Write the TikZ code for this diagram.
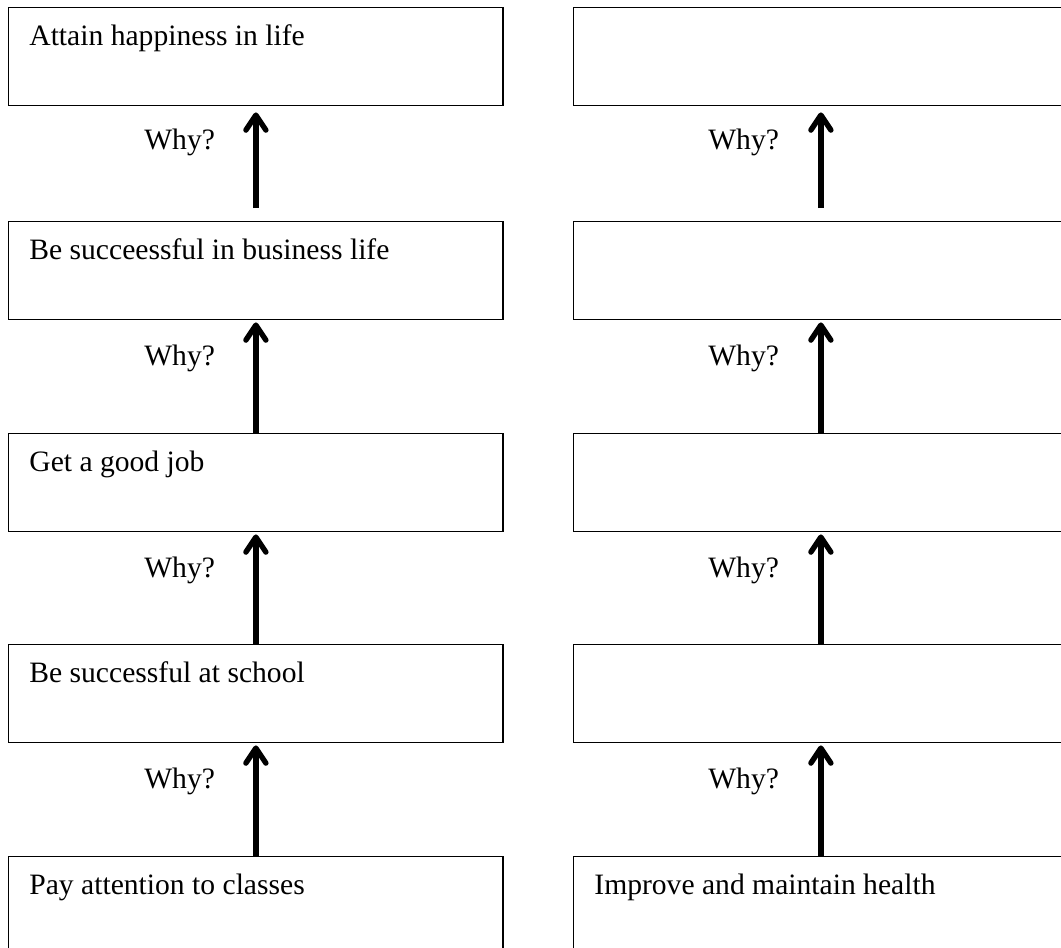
\documentclass[tikz,border=0pt]{standalone}
\usepackage{fontspec}
\setmainfont{Liberation Serif}
\usetikzlibrary{arrows.meta}
\begin{document}
\begin{tikzpicture}[x=0.5pt,y=-0.5pt,
  box/.style={draw=black, line width=0.7pt, rectangle, anchor=north west, inner sep=0pt,
              minimum width=247.2pt, minimum height=49pt},
  txt/.style={anchor=base west, inner sep=0pt, font=\fontsize{14.8}{17}\selectfont},
  why/.style={anchor=base west, inner sep=0pt, font=\fontsize{14.8}{17}\selectfont},
  uparrow/.style={line width=2.7pt, -{Straight Barb[length=7.5pt, width=10pt, round]}}]
\useasboundingbox (0,0) rectangle (1061,948);
% left column
\node[box] (L1) at (8,7) {};
\node[box] (L2) at (8,221) {};
\node[box] (L3) at (8,433) {};
\node[box] (L4) at (8,644) {};
\node[box] (L5) at (8,856) {};
\node[txt] (L1t) at ([xshift=10.5pt,yshift=-19pt]L1.north west) {Attain happiness in life};
\node[txt] (L2t) at ([xshift=10.5pt,yshift=-19pt]L2.north west) {Be succeessful in business life};
\node[txt] (L3t) at ([xshift=10.5pt,yshift=-19pt]L3.north west) {Get a good job};
\node[txt] (L4t) at ([xshift=10.5pt,yshift=-19pt]L4.north west) {Be successful at school};
\node[txt] (L5t) at ([xshift=10.5pt,yshift=-19pt]L5.north west) {Pay attention to classes};
% right column
\node[box] (R1) at (573,7) {};
\node[box] (R2) at (573,221) {};
\node[box] (R3) at (573,433) {};
\node[box] (R4) at (573,644) {};
\node[box] (R5) at (573,856) {};
\node[txt] (R5t) at ([xshift=10.5pt,yshift=-19pt]R5.north west) {Improve and maintain health};
% arrows
\draw[uparrow, shorten <=6.5pt, shorten >=3pt] (L2.north) -- (L1.south);
\draw[uparrow, shorten >=1pt] (L3.north) -- (L2.south);
\draw[uparrow, shorten >=1pt] (L4.north) -- (L3.south);
\draw[uparrow, shorten >=1pt] (L5.north) -- (L4.south);
\draw[uparrow, shorten <=6.5pt, shorten >=3pt] (R2.north) -- (R1.south);
\draw[uparrow, shorten >=1pt] (R3.north) -- (R2.south);
\draw[uparrow, shorten >=1pt] (R4.north) -- (R3.south);
\draw[uparrow, shorten >=1pt] (R5.north) -- (R4.south);
% labels
\node[why] (LW1) at ([xshift=-56pt,yshift=-21.5pt]L1.south) {Why?};
\node[why] (LW2) at ([xshift=-56pt,yshift=-22.5pt]L2.south) {Why?};
\node[why] (LW3) at ([xshift=-56pt,yshift=-22.5pt]L3.south) {Why?};
\node[why] (LW4) at ([xshift=-56pt,yshift=-22.5pt]L4.south) {Why?};
\node[why] (RW1) at ([xshift=-56.5pt,yshift=-21.5pt]R1.south) {Why?};
\node[why] (RW2) at ([xshift=-56.5pt,yshift=-22.5pt]R2.south) {Why?};
\node[why] (RW3) at ([xshift=-56.5pt,yshift=-22.5pt]R3.south) {Why?};
\node[why] (RW4) at ([xshift=-56.5pt,yshift=-22.5pt]R4.south) {Why?};
\end{tikzpicture}
\end{document}
